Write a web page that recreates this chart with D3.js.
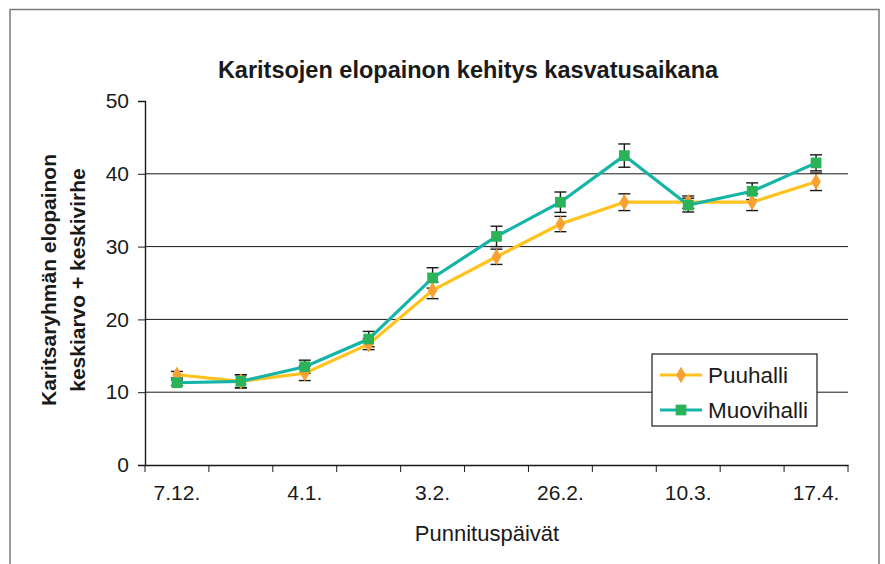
<!DOCTYPE html>
<html>
<head>
<meta charset="utf-8">
<script src="https://cdn.jsdelivr.net/npm/d3@7"></script>
<style>
  body { margin: 0; background: #fff; }
  text { font-family: "Liberation Sans", Arial, sans-serif; fill: #1a1a1a; }
</style>
</head>
<body>
<svg id="chart" width="885" height="564"></svg>
<script>
// punnituspäivät (11 weighings, every other one labelled)
let categories = ['7.12.', '', '4.1.', '', '3.2.', '', '26.2.', '', '10.3.', '', '17.4.'];
let puuhalli = [12.4, 11.5, 12.6, 16.6, 24.0, 28.6, 33.1, 36.1, 36.1, 36.1, 38.9];
let puuhalliErr = [0.45, 0.9, 1.0, 0.75, 1.15, 1.05, 1.05, 1.15, 0.85, 1.15, 1.2];
let muovihalli = [11.3, 11.5, 13.5, 17.3, 25.7, 31.4, 36.1, 42.5, 35.7, 37.6, 41.5];
let muovihalliErr = [0.4, 0.9, 0.9, 1.05, 1.4, 1.4, 1.4, 1.6, 0.95, 1.15, 1.1];
let yTicks = [0, 10, 20, 30, 40, 50];

let svg = d3.select('#chart');

// outer frame
svg.append('rect')
  .attr('x', 10).attr('y', 9.5)
  .attr('width', 869).attr('height', 600)
  .attr('fill', 'none')
  .attr('stroke', '#7a7a7a')
  .attr('stroke-width', 1.5);

let x0 = 145, x1 = 848, yTop = 101, yBot = 465;

let sx = d3.scaleBand()
  .domain(d3.range(categories.length))
  .range([x0, x1]);

let sy = d3.scaleLinear()
  .domain([0, 50])
  .range([yBot, yTop]);

let cx = i => sx(i) + sx.bandwidth()/2;

// gridlines
svg.selectAll('.grid')
  .data(yTicks.filter(d => d > 0 && d < 50))
  .enter()
  .append('line')
  .attr('class', 'grid')
  .attr('x1', x0).attr('x2', x1)
  .attr('y1', d => sy(d)).attr('y2', d => sy(d))
  .attr('stroke', '#1a1a1a')
  .attr('stroke-width', 1);

// y axis
let yAxis = svg.append('g')
  .attr('transform', `translate(${x0},0)`)
  .call(d3.axisLeft(sy).tickValues(yTicks).tickSize(7).tickPadding(9));
yAxis.selectAll('text').style('font-size', '21px');

// x axis
let xAxis = svg.append('g')
  .attr('transform', `translate(0,${yBot})`)
  .call(d3.axisBottom(sx).tickFormat(i => categories[i]).tickSize(0).tickPadding(20));
xAxis.selectAll('text').style('font-size', '21px');
xAxis.selectAll('.tick line').remove();

// x tick marks sit on the category boundaries
svg.selectAll('.xtick')
  .data(d3.range(categories.length + 1))
  .enter()
  .append('line')
  .attr('class', 'xtick')
  .attr('x1', i => x0 + i*sx.step()).attr('x2', i => x0 + i*sx.step())
  .attr('y1', yBot).attr('y2', yBot + 7)
  .attr('stroke', '#1a1a1a');

svg.selectAll('.domain').attr('stroke', '#1a1a1a').attr('stroke-width', 1.4);
svg.selectAll('.tick line').attr('stroke', '#1a1a1a');

let series = [
  {name: 'Puuhalli', values: puuhalli, err: puuhalliErr, line: '#ffc21f', mark: '#f7a033', shape: d3.symbolDiamond},
  {name: 'Muovihalli', values: muovihalli, err: muovihalliErr, line: '#14b5a6', mark: '#2bb35a', shape: d3.symbolSquare}
];

series.forEach(s => {
  let g = svg.append('g');
  let bars = g.selectAll('.err')
    .data(s.values)
    .enter()
    .append('g');
  bars.append('line')
    .attr('x1', (_, i) => cx(i)).attr('x2', (_, i) => cx(i))
    .attr('y1', (d, i) => sy(d + s.err[i])).attr('y2', (d, i) => sy(d - s.err[i]))
    .attr('stroke', '#1a1a1a').attr('stroke-width', 1.4);
  [1, -1].forEach(sign => {
    bars.append('line')
      .attr('x1', (_, i) => cx(i) - 6).attr('x2', (_, i) => cx(i) + 6)
      .attr('y1', (d, i) => sy(d + sign*s.err[i])).attr('y2', (d, i) => sy(d + sign*s.err[i]))
      .attr('stroke', '#1a1a1a').attr('stroke-width', 1.4);
  });
});

series.forEach(s => {
  svg.append('path')
    .datum(s.values)
    .attr('fill', 'none')
    .attr('stroke', s.line)
    .attr('stroke-width', 3.2)
    .attr('d', d3.line().x((_, i) => cx(i)).y(d => sy(d)));
  svg.selectAll(null)
    .data(s.values)
    .enter()
    .append('path')
    .attr('transform', (d, i) => `translate(${cx(i)},${sy(d)})`)
    .attr('d', d3.symbol().type(s.shape).size(s.shape === d3.symbolSquare ? 115 : 80))
    .attr('fill', s.mark);
});

// title
svg.append('text')
  .attr('x', 468).attr('y', 78)
  .attr('text-anchor', 'middle')
  .style('font-size', '23.5px').style('font-weight', 'bold')
  .text('Karitsojen elopainon kehitys kasvatusaikana');

// y title
let yt = svg.append('text')
  .attr('transform', 'translate(56,280) rotate(-90)')
  .attr('text-anchor', 'middle')
  .style('font-size', '21px').style('font-weight', 'bold');
yt.append('tspan').attr('x', 0).attr('y', 0).text('Karitsaryhmän elopainon');
yt.append('tspan').attr('x', 0).attr('y', 29).text('keskiarvo + keskivirhe');

// x title
svg.append('text')
  .attr('x', 487).attr('y', 541)
  .attr('text-anchor', 'middle')
  .style('font-size', '22px')
  .text('Punnituspäivät');

// legend
let lg = svg.append('g').attr('transform', 'translate(652,354)');
lg.append('rect')
  .attr('width', 165).attr('height', 72)
  .attr('fill', '#fff').attr('stroke', '#1a1a1a').attr('stroke-width', 1.2);
series.forEach((s, k) => {
  let y = 21 + k*35;
  lg.append('line')
    .attr('x1', 8).attr('x2', 50).attr('y1', y).attr('y2', y)
    .attr('stroke', s.line).attr('stroke-width', 3.2);
  lg.append('path')
    .attr('transform', `translate(29,${y})`)
    .attr('d', d3.symbol().type(s.shape).size(s.shape === d3.symbolSquare ? 115 : 80))
    .attr('fill', s.mark);
  lg.append('text')
    .attr('x', 56).attr('y', y + 8)
    .style('font-size', '22.5px')
    .text(s.name);
});
</script>
</body>
</html>
